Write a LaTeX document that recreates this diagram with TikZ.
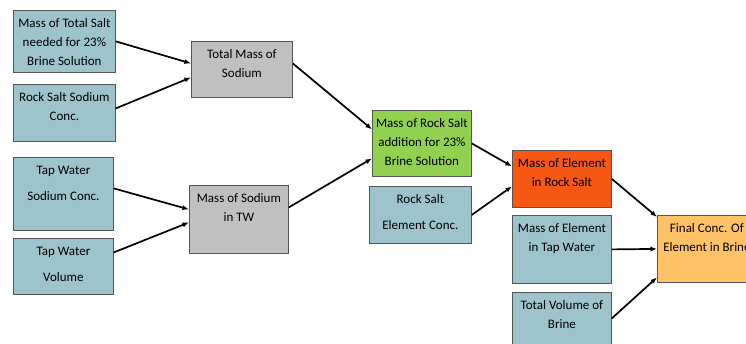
\documentclass[tikz,border=0pt]{standalone}
\usepackage{fontspec}
\setmainfont{Carlito}
\usetikzlibrary{arrows.meta}
\definecolor{tblue}{HTML}{9DC3CD}
\definecolor{cgray}{HTML}{C0C0C0}
\definecolor{rgreen}{HTML}{92D050}
\definecolor{rorange}{HTML}{F65814}
\definecolor{forange}{HTML}{FFC266}
\definecolor{edgegray}{HTML}{555555}
\newcommand{\boxlines}[4]{\parbox[t][#2][t]{#1}{\fontsize{13pt}{#3}\selectfont\centering\rule{0pt}{17pt}#4}}

\begin{document}
\begin{tikzpicture}[x=1pt,y=-1pt,
    blk/.style={draw=edgegray,line width=0.8pt,inner sep=0pt,anchor=north west},
    feed/.style={blk,fill=tblue},
    calc/.style={blk,fill=cgray},
    link/.style={-{Latex[length=6.5pt,width=5pt]},line width=1.7pt}]
  \useasboundingbox (0,0) rectangle (746,343);
  \clip (0,0) rectangle (746,343);
  % inputs
  \node[feed] (mts)  at (13,10)  {\boxlines{102pt}{62pt}{19pt}{Mass of Total Salt\\needed for 23\%\\Brine Solution}};
  \node[feed] (rssc) at (13,84)  {\boxlines{102pt}{57pt}{19pt}{Rock Salt Sodium\\Conc.}};
  \node[feed] (twsc) at (13,157) {\boxlines{100pt}{73pt}{26pt}{Tap Water\\Sodium Conc.}};
  \node[feed] (twv)  at (13,238) {\boxlines{100pt}{56pt}{26pt}{Tap Water\\Volume}};
  % intermediate steps
  \node[calc] (tms)  at (191,41)  {\boxlines{101pt}{56pt}{19pt}{Total Mass of\\Sodium}};
  \node[calc] (mstw) at (189,185) {\boxlines{99pt}{68pt}{19pt}{Mass of Sodium\\in TW}};
  \node[blk,fill=rgreen] (mrsa) at (372,110) {\boxlines{99pt}{66pt}{19pt}{Mass of Rock Salt\\addition for 23\%\\Brine Solution}};
  \node[feed] (rsec) at (369,186) {\boxlines{102pt}{57pt}{26pt}{Rock Salt\\Element Conc.}};
  \node[blk,fill=rorange] (mers) at (512,150) {\boxlines{99pt}{57pt}{19pt}{Mass of Element\\in Rock Salt}};
  \node[feed] (metw) at (512,215) {\boxlines{99pt}{68pt}{19pt}{Mass of Element\\in Tap Water}};
  \node[feed] (tvb)  at (512,292) {\boxlines{99pt}{60pt}{19pt}{Total Volume of\\Brine}};
  \node[blk,fill=forange] (fce) at (657,215) {\boxlines{99pt}{67pt}{19pt}{Final Conc. Of\\Element in Brine}};
  % links
  \draw[link] (mts.east) -- ([yshift=6pt]tms.west);
  \draw[link] ([yshift=4.5pt]rssc.east) -- ([yshift=-8pt]tms.west);
  \draw[link] ([yshift=5.5pt]twsc.east) -- ([yshift=10pt]mstw.west);
  \draw[link] ([yshift=14pt]twv.east) -- ([yshift=-3pt]mstw.west);
  \draw[link] ([yshift=6pt]tms.east) -- ([yshift=14pt]mrsa.west);
  \draw[link] ([yshift=12pt]mstw.east) -- ([yshift=-15pt]mrsa.west);
  \draw[link] (mrsa.east) -- ([yshift=12.5pt]mers.west);
  \draw[link] (rsec.east) -- ([yshift=-7.5pt]mers.west);
  \draw[link] (mers.east) -- ([yshift=32pt]fce.west);
  \draw[link] (metw.east) -- (fce.west);
  \draw[link] ([yshift=4pt]tvb.east) -- ([yshift=-28.5pt]fce.west);
\end{tikzpicture}
\end{document}
